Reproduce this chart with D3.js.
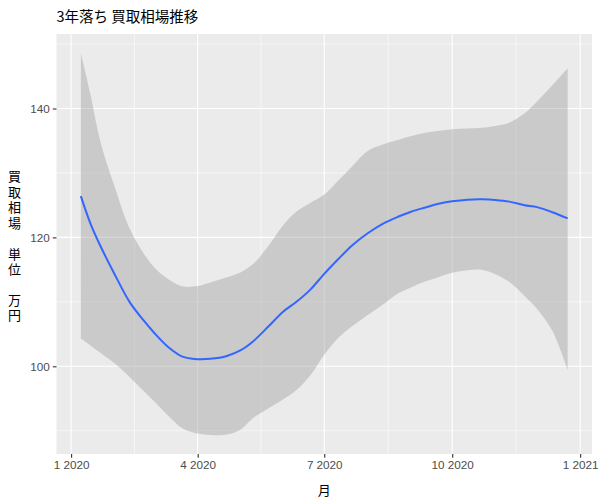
<!DOCTYPE html>
<html>
<head>
<meta charset="utf-8">
<script src="https://cdn.jsdelivr.net/npm/d3@7"></script>
<style>
  html, body { margin: 0; padding: 0; background: #fff; }
  svg { display: block; }
</style>
</head>
<body>
<script>
// ---- data ----
const dates = ["2020-01-08","2020-01-15","2020-01-22","2020-02-01","2020-02-12","2020-02-22",
  "2020-03-01","2020-03-11","2020-03-21","2020-04-01","2020-04-10","2020-04-22",
  "2020-05-02","2020-05-11","2020-05-22","2020-06-01","2020-06-11","2020-06-21",
  "2020-07-01","2020-07-11","2020-07-21","2020-08-01","2020-08-12","2020-08-23",
  "2020-09-01","2020-09-11","2020-09-22","2020-10-01","2020-10-12","2020-10-23",
  "2020-11-01","2020-11-11","2020-11-22","2020-12-01","2020-12-12","2020-12-23"];
const fitValues = [126.4,122.1,118.7,114.4,110.0,107.15,105.13,102.95,101.5,101.1,101.15,101.6,
  102.5,103.9,106.2,108.4,110.0,111.9,114.35,116.6,118.75,120.6,122.1,123.2,
  123.95,124.6,125.25,125.6,125.85,125.9,125.8,125.55,125.0,124.7,123.9,122.95];
const upperValues = [148.6,142.1,134.9,128.05,121.4,117.55,115.3,113.5,112.4,112.45,113.0,113.8,
  114.6,115.9,118.7,121.75,124.0,125.35,126.65,128.8,131.0,133.35,134.4,135.1,
  135.7,136.2,136.55,136.77,136.9,137.0,137.3,137.8,139.25,141.1,143.6,146.2];
const lowerValues = [104.3,103.2,102.1,100.5,98.35,96.2,94.5,92.3,90.4,89.55,89.35,89.4,
  90.2,92.0,93.5,94.8,96.3,98.6,101.8,104.4,106.2,107.9,109.55,111.3,
  112.2,113.1,113.9,114.5,114.9,114.95,114.3,113.1,110.9,108.9,105.5,99.4];
const xTickDates = ["2020-01-01","2020-04-01","2020-07-01","2020-10-01","2021-01-01"];
const xTickLabels = ["1 2020","4 2020","7 2020","10 2020","1 2021"];
const yTicks = [100, 120, 140];
const yMinorTicks = [90, 110, 130, 150];
const title = "3年落ち 買取相場推移";
const xTitle = "月";
const yTitle = "買取相場\u3000単位\u3000万円";

// ---- layout ----
const W = 600, H = 500;
const m = {left: 56.5, right: 8, top: 34, bottom: 46};
const pw = W - m.left - m.right, ph = H - m.top - m.bottom;
const parse = d3.utcParse("%Y-%m-%d");
const data = dates.map((d, i) => ({date: parse(d), fit: fitValues[i], lo: lowerValues[i], hi: upperValues[i]}));

const xExt = d3.extent(data, d => d.date);
const xPad = (xExt[1] - xExt[0]) * 0.05;
const x = d3.scaleUtc().domain([new Date(+xExt[0] - xPad), new Date(+xExt[1] + xPad)]).range([0, pw]);
const yMin = d3.min(lowerValues), yMax = d3.max(upperValues);
const yPad = (yMax - yMin) * 0.05;
const y = d3.scaleLinear().domain([yMin - yPad, yMax + yPad]).range([ph, 0]);

const svg = d3.select("body").append("svg").attr("width", W).attr("height", H);
svg.append("rect").attr("width", W).attr("height", H).attr("fill", "#fff");
const g = svg.append("g").attr("transform", `translate(${m.left},${m.top})`);

g.append("rect").attr("width", pw).attr("height", ph).attr("fill", "#EBEBEB");

const xTicks = xTickDates.map(parse);
const xMinor = d3.pairs(xTicks).map(([a, b]) => new Date((+a + +b) / 2));

// minor grid
g.selectAll(".ymin").data(yMinorTicks).join("line")
  .attr("x1", 0).attr("x2", pw).attr("y1", d => y(d)).attr("y2", d => y(d))
  .attr("stroke", "#fff").attr("stroke-width", 0.55);
g.selectAll(".xmin").data(xMinor).join("line")
  .attr("y1", 0).attr("y2", ph).attr("x1", d => x(d)).attr("x2", d => x(d))
  .attr("stroke", "#fff").attr("stroke-width", 0.55);
// major grid
g.selectAll(".ymaj").data(yTicks).join("line")
  .attr("x1", 0).attr("x2", pw).attr("y1", d => y(d)).attr("y2", d => y(d))
  .attr("stroke", "#fff").attr("stroke-width", 1.1);
g.selectAll(".xmaj").data(xTicks).join("line")
  .attr("y1", 0).attr("y2", ph).attr("x1", d => x(d)).attr("x2", d => x(d))
  .attr("stroke", "#fff").attr("stroke-width", 1.1);

// ribbon
const area = d3.area().x(d => x(d.date)).y0(d => y(d.lo)).y1(d => y(d.hi)).curve(d3.curveCatmullRom);
g.append("path").datum(data).attr("d", area).attr("fill", "#999999").attr("fill-opacity", 0.4);
// fitted line
const line = d3.line().x(d => x(d.date)).y(d => y(d.fit)).curve(d3.curveCatmullRom);
g.append("path").datum(data).attr("d", line).attr("fill", "none")
  .attr("stroke", "#3366FF").attr("stroke-width", 2);

// axes
const tickFont = "'Liberation Sans', Arial, sans-serif";
const xAxis = d3.axisBottom(x).tickValues(xTicks).tickFormat((d, i) => xTickLabels[i])
  .tickSize(3.7).tickPadding(3);
const gx = g.append("g").attr("transform", `translate(0,${ph})`).call(xAxis);
const yAxis = d3.axisLeft(y).tickValues(yTicks).tickSize(3.7).tickPadding(3);
const gy = g.append("g").call(yAxis);
[gx, gy].forEach(a => {
  a.select(".domain").remove();
  a.selectAll(".tick line").attr("stroke", "#333333").attr("stroke-width", 1.1);
  a.selectAll(".tick text").attr("fill", "#4D4D4D").attr("font-size", 11.7)
    .attr("font-family", tickFont);
});

// titles
const cjk = "'Noto Sans CJK JP', 'Noto Sans CJK SC', sans-serif";
svg.append("text").attr("x", m.left).attr("y", 22).text(title)
  .attr("font-family", cjk).attr("font-size", 14.5).attr("fill", "#000");
svg.append("text").attr("x", m.left + pw / 2).attr("y", 495).attr("text-anchor", "middle")
  .text(xTitle).attr("font-family", cjk).attr("font-size", 13).attr("fill", "#000");
svg.append("text")
  .attr("x", 14.5).attr("y", 170)
  .style("writing-mode", "vertical-rl")
  .style("text-orientation", "upright")
  .style("letter-spacing", "2.45px")
  .attr("font-family", cjk).attr("font-size", 13).attr("fill", "#000")
  .text(yTitle);
</script>
</body>
</html>
